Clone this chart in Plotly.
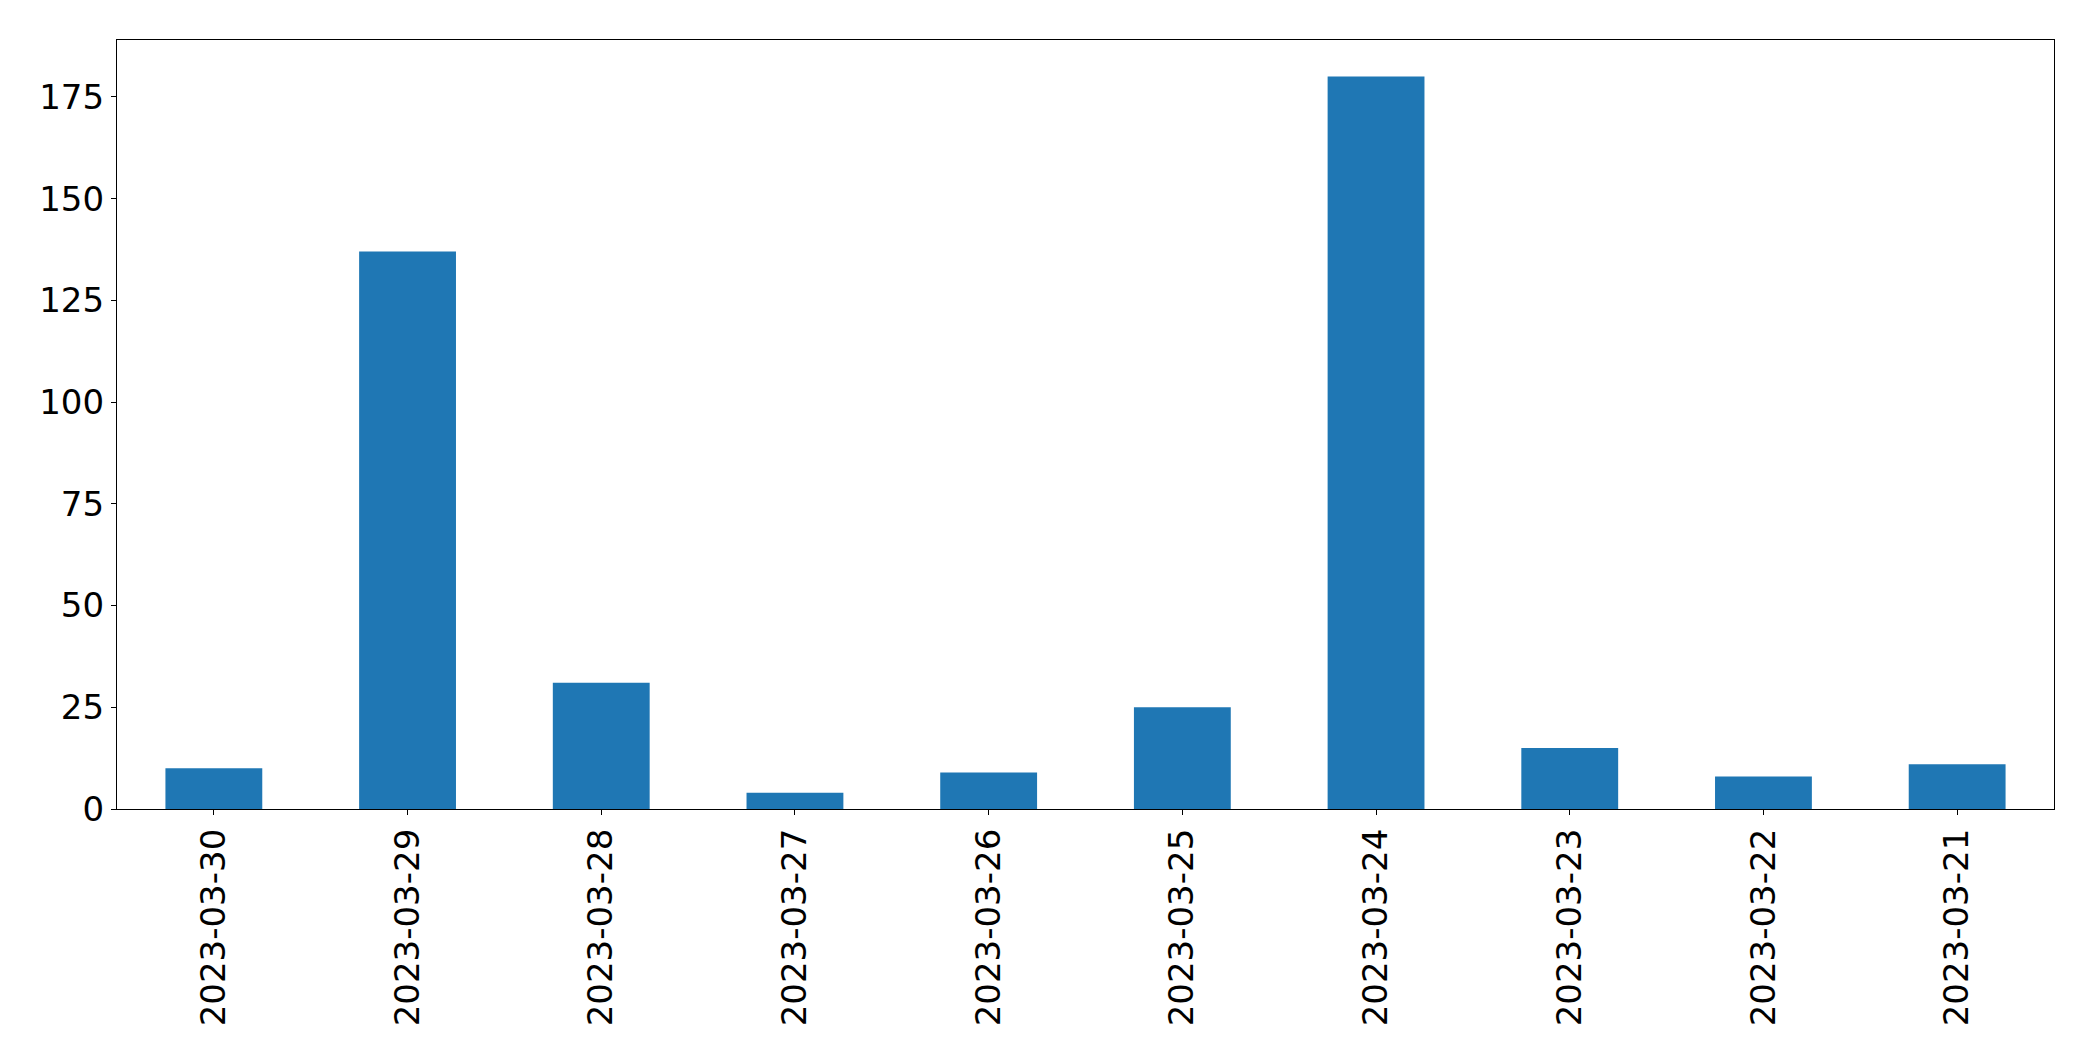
import plotly.graph_objects as go

dates = ["2023-03-30", "2023-03-29", "2023-03-28", "2023-03-27", "2023-03-26",
         "2023-03-25", "2023-03-24", "2023-03-23", "2023-03-22", "2023-03-21"]
counts = [10, 137, 31, 4, 9, 25, 180, 15, 8, 11]
y_ticks = [0, 25, 50, 75, 100, 125, 150, 175]

fig = go.Figure(go.Bar(x=dates, y=counts, marker=dict(color="#1f77b4", line=dict(width=0)),
                       width=0.5))

font = dict(family="DejaVu Sans", size=34, color="black")
fig.update_layout(
    width=2093, height=1061,
    margin=dict(l=108.5, r=46.5, t=31.5, b=259.5),
    paper_bgcolor="white", plot_bgcolor="white",
    showlegend=False,
    font=font,
)
fig.update_xaxes(
    type="category", range=[-0.5, 9.5],
    tickangle=-90, ticks="outside", ticklen=5, tickwidth=1.3, tickcolor="black",
    showline=True, linecolor="black", linewidth=1.3, mirror=True,
    showgrid=False, zeroline=False, tickfont=font,
)
fig.update_yaxes(
    range=[0, 189], tickvals=y_ticks, ticktext=[str(v) for v in y_ticks],
    ticks="outside", ticklen=5, tickwidth=1.3, tickcolor="black",
    showline=True, linecolor="black", linewidth=1.3, mirror=True,
    showgrid=False, zeroline=False, tickfont=font,
)

fig.write_html("out.html")
